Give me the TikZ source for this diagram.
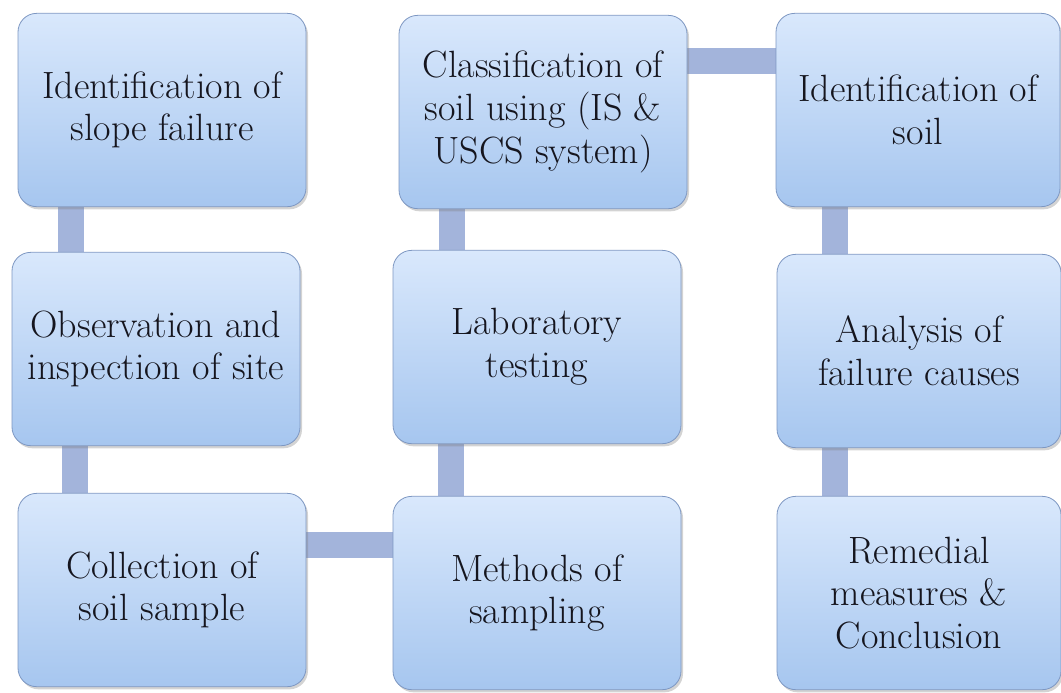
\documentclass[tikz,border=0pt]{standalone}
\usetikzlibrary{shadows,backgrounds}
\definecolor{boxtop}{HTML}{D9E8FC}
\definecolor{boxbot}{HTML}{A6C6EF}
\definecolor{boxline}{HTML}{7D97C2}
\definecolor{linkcol}{HTML}{A3B4DB}
\definecolor{txt}{HTML}{15151E}
\tikzset{
  box/.style={draw=boxline,line width=.6pt,rounded corners=14pt,
    top color=boxtop,bottom color=boxbot,align=center,
    minimum width=216pt,minimum height=145pt,inner sep=0pt,
    text=txt,font=\fontsize{28.5}{32}\selectfont,
    drop shadow={shadow xshift=1.5pt,shadow yshift=-2pt,opacity=.35}},
  link/.style={draw=linkcol,line width=19pt}
}
\begin{document}
\begin{tikzpicture}[x=.75pt,y=-.75pt]
  \useasboundingbox (0,0) rectangle (1061,693);
  % first column
  \node[box] (slope) at (162,110) {Identification of\\slope failure};
  \node[box] (site) at (156,349) {Observation and\\inspection of site};
  \node[box] (collect) at (162,590) {Collection of\\soil sample};
  % second column
  \node[box] (method) at (537,593) {Methods of\\sampling};
  \node[box] (lab) at (537,347) {Laboratory\\testing};
  \node[box] (classify) at (543,112) {Classification of\\soil using (IS \&\\USCS system)};
  % third column
  \node[box,minimum width=213pt] (soil) at (918,110) {Identification of\\soil};
  \node[box,minimum width=213pt] (cause) at (919,351) {Analysis of\\failure causes};
  \node[box,minimum width=213pt] (remedy) at (919,593) {Remedial\\measures \&\\Conclusion};
  \begin{scope}[on background layer]
    \draw[link] (slope.south -| 71,0) -- (site.north -| 71,0);
    \draw[link] (site.south -| 75,0) -- (collect.north -| 75,0);
    \draw[link] (collect.east |- 0,545) -- (method.west |- 0,545);
    \draw[link] (method.north -| 451,0) -- (lab.south -| 451,0);
    \draw[link] (lab.north -| 452,0) -- (classify.south -| 452,0);
    \draw[link] (classify.east |- 0,61) -- (soil.west |- 0,61);
    \draw[link] (soil.south -| 835,0) -- (cause.north -| 835,0);
    \draw[link] (cause.south -| 835,0) -- (remedy.north -| 835,0);
  \end{scope}
\end{tikzpicture}
\end{document}
